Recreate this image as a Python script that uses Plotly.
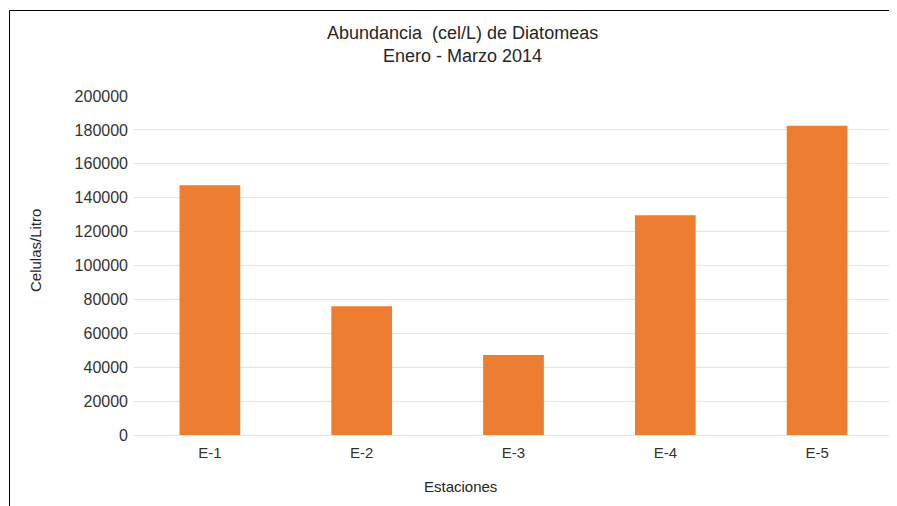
import plotly.graph_objects as go

estaciones = ["E-1", "E-2", "E-3", "E-4", "E-5"]
celulas = [147300, 75900, 47200, 129600, 182500]
y_ticks = [0, 20000, 40000, 60000, 80000, 100000, 120000, 140000, 160000, 180000, 200000]

FONT = "Liberation Sans, Arial, sans-serif"

# page body has an 8px margin, so the figure is drawn 8px smaller and positions are shifted
OFF = 8
W, H = 897 - OFF, 506 - OFF
# plot area in page pixels: x 134..893, y 96..435
L, R, T, B = 134 - OFF, 897 - 893, 96 - OFF, 506 - 435
pw = W - L - R
ph = H - T - B


def px(x):
    return (x - OFF - L) / pw


def py(y):
    return (435 - y) / ph


bar = go.Bar(x=estaciones, y=celulas, marker=dict(color="#ED7D31", line=dict(width=0)))

layout = go.Layout(
    width=W, height=H,
    margin=dict(l=L, r=R, t=T, b=B),
    paper_bgcolor="white", plot_bgcolor="white",
    font=dict(family=FONT, color="#333333", size=15),
    showlegend=False,
    bargap=0.6,
    xaxis=dict(showgrid=False, showline=False, ticks="", ticklen=0,
               ticklabelstandoff=7,
               tickfont=dict(size=15, color="#333333")),
    yaxis=dict(range=[0, 200000], tickvals=y_ticks, showgrid=True,
               gridcolor="#E3E3E3", gridwidth=1, zeroline=True,
               zerolinecolor="#E3E3E3", zerolinewidth=1, showline=False,
               tickformat="d", ticks="", ticklabelstandoff=5,
               tickfont=dict(size=16, color="#333333")),
    annotations=[
        dict(text="Abundancia  (cel/L) de Diatomeas<br>Enero - Marzo 2014",
             xref="paper", yref="paper",
             x=px(462), y=py(44), xanchor="center", yanchor="middle",
             showarrow=False, font=dict(size=18, color="#262626")),
        dict(text="Estaciones", xref="paper", yref="paper",
             x=px(460), y=py(486), xanchor="center", yanchor="middle",
             showarrow=False, font=dict(size=15, color="#262626")),
        dict(text="Celulas/Litro", xref="paper", yref="paper", textangle=-90,
             x=px(35), y=py(251), xanchor="center", yanchor="middle",
             showarrow=False, font=dict(size=15, color="#262626")),
    ],
    shapes=[
        # chart frame (left and top edges)
        dict(type="line", xref="paper", yref="paper",
             x0=px(9.5), x1=px(9.5), y0=py(520), y1=py(10.5),
             line=dict(color="black", width=1)),
        dict(type="line", xref="paper", yref="paper",
             x0=px(9.5), x1=px(900), y0=py(10.5), y1=py(10.5),
             line=dict(color="black", width=1)),
    ],
)

fig = go.Figure(data=[bar], layout=layout)
fig.write_html("out.html")
